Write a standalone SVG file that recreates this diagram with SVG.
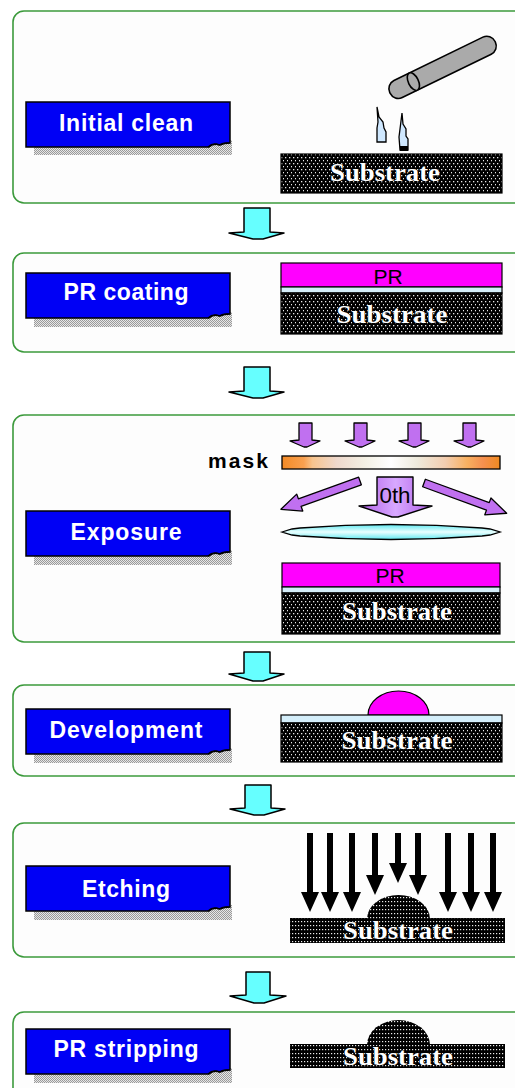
<svg xmlns="http://www.w3.org/2000/svg" width="515" height="1088" viewBox="0 0 515 1088">
  <style>
    .panel { fill: #fdfdfd; stroke: #3c9a3c; stroke-width: 1.6; }
    .lbl { fill: #0000f5; stroke: #000; stroke-width: 1.5; }
    .lbltxt { font-family: "Liberation Sans", Arial, sans-serif; font-weight: bold; font-size: 23px; fill: #fff; text-anchor: middle; }
    .shadow { fill: url(#shadeDots); }
    .curl { fill: none; stroke: #000; stroke-width: 1.2; }
    .sub { fill: url(#subDots); stroke: #000; stroke-width: 1.2; }
    .subB { fill: url(#subDense); }
    .subtxt { font-family: "Liberation Serif", "Times New Roman", serif; font-weight: bold; font-size: 25px; fill: #fff; stroke: #000; stroke-width: 1; paint-order: stroke; text-anchor: middle; }
    .pr { fill: #ff00ff; stroke: #000; stroke-width: 1.2; }
    .film { fill: #d4eefa; stroke: #000; stroke-width: 1.2; }
    .prtxt { font-family: "Liberation Sans", Arial, sans-serif; font-size: 21px; fill: #000; text-anchor: middle; }
    .flow { fill: #66ffff; stroke: #000; stroke-width: 1.5; stroke-linejoin: round; }
    .beam { fill: #c070f0; stroke: #000; stroke-width: 1.3; stroke-linejoin: round; }
    .etch { fill: #000; }
  </style>
  <defs>
    <pattern id="subDots" width="4" height="6" patternUnits="userSpaceOnUse">
      <rect width="4" height="6" fill="#000"/>
      <rect x="1" y="1" width="1.3" height="1.3" fill="#e8e8e8"/>
      <rect x="3" y="4" width="1.3" height="1.3" fill="#e8e8e8"/>
    </pattern>
    <pattern id="subDense" width="3" height="4" patternUnits="userSpaceOnUse">
      <rect width="3" height="4" fill="#000"/>
      <rect x="1" y="1" width="1.2" height="1.2" fill="#ececec"/>
    </pattern>
    <pattern id="shadeDots" width="2" height="2" patternUnits="userSpaceOnUse">
      <rect width="2" height="2" fill="#e6e6e6"/>
      <rect width="1" height="1" fill="#9a9a9a"/>
      <rect x="1" y="1" width="1" height="1" fill="#9a9a9a"/>
    </pattern>
    <linearGradient id="maskGrad" x1="0" x2="1" y1="0" y2="0">
      <stop offset="0" stop-color="#f38a25"/>
      <stop offset="0.1" stop-color="#f8a050"/>
      <stop offset="0.14" stop-color="#f7c48e"/>
      <stop offset="0.25" stop-color="#eed8cc"/>
      <stop offset="0.38" stop-color="#f3f0e4"/>
      <stop offset="0.5" stop-color="#ffffff"/>
      <stop offset="0.62" stop-color="#eeeadc"/>
      <stop offset="0.75" stop-color="#f2cdb0"/>
      <stop offset="0.85" stop-color="#f8b060"/>
      <stop offset="0.92" stop-color="#f59050"/>
      <stop offset="1" stop-color="#f08a20"/>
    </linearGradient>
    <linearGradient id="lensGrad" x1="0" x2="0" y1="0" y2="1">
      <stop offset="0" stop-color="#5ee8f0"/>
      <stop offset="0.5" stop-color="#eaffff"/>
      <stop offset="1" stop-color="#5ee8f0"/>
    </linearGradient>
    <linearGradient id="zeroGrad" x1="0" x2="1" y1="0" y2="0">
      <stop offset="0" stop-color="#b060e8"/>
      <stop offset="0.5" stop-color="#d8a8ff"/>
      <stop offset="1" stop-color="#b060e8"/>
    </linearGradient>
  </defs>

  <!-- Step 1: initial clean -->
  <g id="step-initial-clean">
    <rect class="panel" x="13" y="11" width="520" height="192" rx="11"/>
    <rect class="shadow" x="34" y="140" width="198" height="15"/>
    <path class="lbl" d="M26,102 H230 V143 Q224,143 220,145 Q214,143 209,147 H26 Z"/>
    <path class="curl" d="M208,147 Q213,142 219,145 Q224,142 230,143"/>
    <text class="lbltxt" x="126" y="131" textLength="134" lengthAdjust="spacing">Initial clean</text>
    <!-- nozzle -->
    <g transform="translate(390,93) rotate(-26)">
      <rect x="0" y="-9.5" width="117" height="19" rx="9" fill="#aaaaaa" stroke="#000" stroke-width="1.6"/>
      <ellipse cx="26" cy="0" rx="5" ry="9.5" fill="#aaaaaa" stroke="#000" stroke-width="1.6"/>
    </g>
    <!-- droplets -->
    <path d="M377,107 L379,117 L383,122 L384,128 L386,132 L386,142 L377,142 L377,128 L378,122 Z" fill="#cfe8ff" stroke="#000" stroke-width="1.3"/>
    <path d="M402,113 L403,124 L406,129 L406,136 L408,139 L408,150 L400,150 L399,137 L400,129 Z" fill="#cfe8ff" stroke="#000" stroke-width="1.3"/>
    <rect x="400" y="146" width="8" height="5" fill="#000"/>
    <rect class="sub" x="281" y="154" width="221" height="39"/>
    <text class="subtxt" x="385" y="181" textLength="110" lengthAdjust="spacingAndGlyphs">Substrate</text>
  </g>

  <!-- Step 2: PR coating -->
  <g id="step-pr-coating">
    <rect class="panel" x="13" y="253" width="520" height="99" rx="11"/>
    <rect class="shadow" x="34" y="312" width="198" height="15"/>
    <path class="lbl" d="M26,273 H230 V314 Q224,314 220,316 Q214,314 209,318 H26 Z"/>
    <path class="curl" d="M208,318 Q213,313 219,316 Q224,313 230,314"/>
    <text class="lbltxt" x="126" y="300" textLength="125" lengthAdjust="spacing">PR coating</text>
    <rect class="pr" x="281" y="263" width="221" height="24"/>
    <rect class="film" x="281" y="287" width="221" height="6"/>
    <rect class="sub" x="281" y="293" width="221" height="41"/>
    <text class="prtxt" x="388" y="284">PR</text>
    <text class="subtxt" x="392" y="323" textLength="111" lengthAdjust="spacingAndGlyphs">Substrate</text>
  </g>

  <!-- Step 3: exposure -->
  <g id="step-exposure">
    <rect class="panel" x="13" y="415" width="520" height="227" rx="11"/>
    <rect class="shadow" x="34" y="550" width="198" height="15"/>
    <path class="lbl" d="M26,511 H230 V552 Q224,552 220,554 Q214,552 209,556 H26 Z"/>
    <path class="curl" d="M208,556 Q213,551 219,554 Q224,551 230,552"/>
    <text class="lbltxt" x="126" y="540" textLength="111" lengthAdjust="spacing">Exposure</text>
    <!-- illumination -->
    <polygon class="beam" points="299,423 312,423 312,440 320,441 307,447 304,447 290,441 299,440"/>
    <polygon class="beam" points="354,423 367,423 367,440 375,441 362,447 359,447 345,441 354,440"/>
    <polygon class="beam" points="408,423 421,423 421,440 429,441 416,447 413,447 399,441 408,440"/>
    <polygon class="beam" points="463,423 476,423 476,440 484,441 471,447 468,447 454,441 463,440"/>
    <text x="268" y="468" font-family="'Liberation Sans', Arial, sans-serif" font-weight="bold" font-size="21" text-anchor="end" textLength="60" lengthAdjust="spacing">mask</text>
    <rect x="282" y="456" width="218" height="13" fill="url(#maskGrad)" stroke="#000" stroke-width="1.3"/>
    <!-- diffracted orders -->
    <g transform="translate(360,481) rotate(160.3)">
      <polygon class="beam" points="0,-4 64,-4 64,-9 84,0 64,9 64,4 0,4"/>
    </g>
    <g transform="translate(424,483) rotate(20.1)">
      <polygon class="beam" points="0,-4 68,-4 68,-9 88,0 68,9 68,4 0,4"/>
    </g>
    <polygon points="377,477 413,477 413,505 432,506 398,517 392,517 359,506 377,505" fill="url(#zeroGrad)" stroke="#000" stroke-width="1.4" stroke-linejoin="round"/>
    <text x="395" y="503" font-family="'Liberation Sans', Arial, sans-serif" font-size="22" text-anchor="middle" textLength="31" lengthAdjust="spacingAndGlyphs">0th</text>
    <!-- lens -->
    <path d="M282,532 L292,529 L300,528 Q391,521 482,528 L490,529 L500,532 L490,535 L482,536 Q391,543 300,536 L292,535 Z" fill="url(#lensGrad)" stroke="#000" stroke-width="1.3"/>
    <rect class="pr" x="282" y="563" width="218" height="24"/>
    <rect class="film" x="282" y="587" width="218" height="6"/>
    <rect class="sub" x="282" y="593" width="218" height="41"/>
    <text class="prtxt" x="390" y="583">PR</text>
    <text class="subtxt" x="397" y="620" textLength="110" lengthAdjust="spacingAndGlyphs">Substrate</text>
  </g>

  <!-- Step 4: development -->
  <g id="step-development">
    <rect class="panel" x="13" y="685" width="520" height="91" rx="11"/>
    <rect class="shadow" x="34" y="748" width="198" height="15"/>
    <path class="lbl" d="M26,709 H230 V750 Q224,750 220,752 Q214,750 209,754 H26 Z"/>
    <path class="curl" d="M208,754 Q213,749 219,752 Q224,749 230,750"/>
    <text class="lbltxt" x="126" y="738" textLength="153" lengthAdjust="spacing">Development</text>
    <path class="pr" d="M368,715 A30.5,24 0 0 1 429,715 Z"/>
    <rect class="film" x="281" y="715" width="221" height="8"/>
    <rect class="sub" x="281" y="723" width="221" height="39"/>
    <text class="subtxt" x="397" y="749" textLength="111" lengthAdjust="spacingAndGlyphs">Substrate</text>
  </g>

  <!-- Step 5: etching -->
  <g id="step-etching">
    <rect class="panel" x="13" y="823" width="520" height="134" rx="11"/>
    <rect class="shadow" x="34" y="905" width="198" height="15"/>
    <path class="lbl" d="M26,866 H230 V907 Q224,907 220,909 Q214,907 209,911 H26 Z"/>
    <path class="curl" d="M208,911 Q213,906 219,909 Q224,906 230,907"/>
    <text class="lbltxt" x="126" y="897" textLength="88" lengthAdjust="spacing">Etching</text>
    <!-- etchant flux -->
    <g class="etch">
      <polygon points="307,833 313,833 313,892 319,892 310,912 301,892 307,892"/>
      <polygon points="327,833 333,833 333,892 339,892 330,912 321,892 327,892"/>
      <polygon points="349,833 355,833 355,892 361,892 352,912 343,892 349,892"/>
      <polygon points="372,833 378,833 378,875 384,875 375,895 366,875 372,875"/>
      <polygon points="395,833 401,833 401,863 407,863 398,883 389,863 395,863"/>
      <polygon points="415,833 421,833 421,875 427,875 418,895 409,875 415,875"/>
      <polygon points="445,833 451,833 451,892 457,892 448,912 439,892 445,892"/>
      <polygon points="468,833 474,833 474,892 480,892 471,912 462,892 468,892"/>
      <polygon points="490,833 496,833 496,892 502,892 493,912 484,892 490,892"/>
    </g>
    <path class="subB" d="M367,919 A31.5,24 0 0 1 430,919 Z"/>
    <rect class="subB" x="290" y="918" width="215" height="25"/>
    <text class="subtxt" x="398" y="939" font-size="23" textLength="110" lengthAdjust="spacingAndGlyphs">Substrate</text>
  </g>

  <!-- Step 6: PR stripping -->
  <g id="step-pr-stripping">
    <rect class="panel" x="13" y="1012" width="520" height="100" rx="11"/>
    <rect class="shadow" x="34" y="1068" width="198" height="15"/>
    <path class="lbl" d="M26,1029 H230 V1070 Q224,1070 220,1072 Q214,1070 209,1074 H26 Z"/>
    <path class="curl" d="M208,1074 Q213,1069 219,1072 Q224,1069 230,1070"/>
    <text class="lbltxt" x="126" y="1057" textLength="145" lengthAdjust="spacing">PR stripping</text>
    <path class="subB" d="M367,1045 A31.5,25 0 0 1 430,1045 Z"/>
    <rect class="subB" x="290" y="1044" width="215" height="24"/>
    <text class="subtxt" x="398" y="1065" font-size="23" textLength="110" lengthAdjust="spacingAndGlyphs">Substrate</text>
  </g>

  <!-- process flow arrows -->
  <g id="connectors">
    <polygon class="flow" points="244,208 270,208 270,232 284,233 263,239 253,239 229,233 244,232"/>
    <polygon class="flow" points="244,367 270,367 270,391 284,392 263,398 253,398 229,392 244,391"/>
    <polygon class="flow" points="244,652 270,652 270,673 284,674 263,681 253,681 229,674 244,673"/>
    <polygon class="flow" points="245,785 271,785 271,808 285,809 264,815 254,815 230,809 245,808"/>
    <polygon class="flow" points="246,972 270,972 270,995 286,996 264,1003 254,1003 230,996 246,995"/>
  </g>
</svg>
